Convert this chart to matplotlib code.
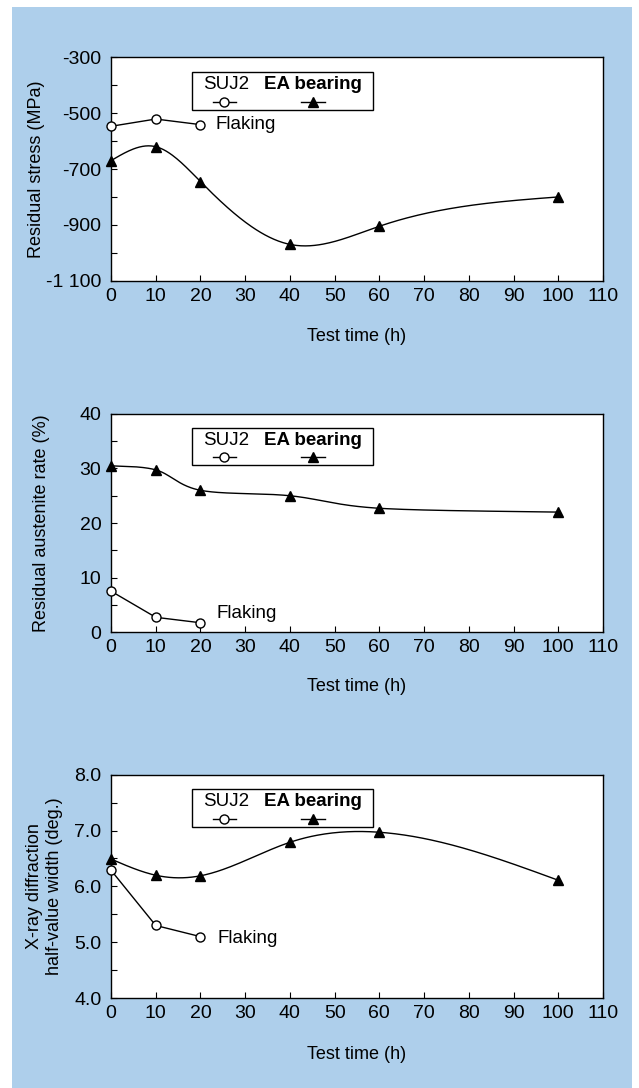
import matplotlib
matplotlib.use("Agg")
import matplotlib.pyplot as plt
from matplotlib.patches import Rectangle
import numpy as np

plt.rcParams['font.family'] = ['Liberation Sans', 'DejaVu Sans']

hours = [0, 10, 20, 40, 60, 100]
suj2_hours = [0, 10, 20]

stress_ea = [-670, -620, -745, -970, -905, -800]
stress_suj2 = [-547, -521, -541]

austenite_ea = [30.5, 29.75, 26.0, 25.0, 22.7, 22.0]
austenite_suj2 = [7.5, 2.7, 1.7]

width_ea = [6.49, 6.20, 6.19, 6.79, 6.97, 6.11]
width_suj2 = [6.29, 5.30, 5.10]

x_ticks = list(range(0, 111, 10))

panels = [
    dict(ea=stress_ea, suj2=stress_suj2, ylim=(-1100, -300),
         major=[-1100, -900, -700, -500, -300],
         labels=["-1 100", "-900", "-700", "-500", "-300"],
         minor=[-1000, -800, -600, -400],
         ylabel="Residual stress (MPa)", flaking=(23.3, -540), ylx=-0.152,
         box=(0.742, 0.2053), smooth="spline"),
    dict(ea=austenite_ea, suj2=austenite_suj2, ylim=(0, 40),
         major=[0, 10, 20, 30, 40],
         labels=["0", "10", "20", "30", "40"],
         minor=[5, 15, 25, 35],
         ylabel="Residual austenite rate (%)", flaking=(23.5, 3.4), ylx=-0.142,
         box=(0.4191, 0.2004), smooth="bezier"),
    dict(ea=width_ea, suj2=width_suj2, ylim=(4.0, 8.0),
         major=[4.0, 5.0, 6.0, 7.0, 8.0],
         labels=["4.0", "5.0", "6.0", "7.0", "8.0"],
         minor=[4.5, 5.5, 6.5, 7.5],
         ylabel="X-ray diffraction\nhalf-value width (deg.)", flaking=(23.7, 5.07),
         ylx=-0.135, box=(0.0827, 0.2052), smooth="spline"),
]


def bezier_line(x, y, n=40):
    # Catmull-Rom style bezier, like a spreadsheet "smoothed line"
    pts = np.column_stack([x, y]).astype(float)
    ext = np.vstack([pts[0], pts, pts[-1]])
    t = np.linspace(0, 1, n)[:, None]
    out = []
    for i in range(len(pts) - 1):
        p0, p3 = ext[i + 1], ext[i + 2]
        p1 = p0 + (ext[i + 2] - ext[i]) / 6
        p2 = p3 - (ext[i + 3] - ext[i + 1]) / 6
        seg = (1 - t) ** 3 * p0 + 3 * (1 - t) ** 2 * t * p1 \
            + 3 * (1 - t) * t ** 2 * p2 + t ** 3 * p3
        out.append(seg)
    out = np.vstack(out)
    return out[:, 0], out[:, 1]


def spline_line(x, y, n=300):
    # natural cubic spline
    x = np.asarray(x, float)
    y = np.asarray(y, float)
    k = len(x)
    h = np.diff(x)
    A = np.zeros((k, k))
    b = np.zeros(k)
    A[0, 0] = 1
    A[-1, -1] = 1
    for i in range(1, k - 1):
        A[i, i - 1] = h[i - 1]
        A[i, i] = 2 * (h[i - 1] + h[i])
        A[i, i + 1] = h[i]
        b[i] = 6 * ((y[i + 1] - y[i]) / h[i] - (y[i] - y[i - 1]) / h[i - 1])
    m = np.linalg.solve(A, b)
    xs = np.linspace(x[0], x[-1], n)
    idx = np.clip(np.searchsorted(x, xs) - 1, 0, k - 2)
    x0, x1 = x[idx], x[idx + 1]
    hh = x1 - x0
    t0, t1 = x1 - xs, xs - x0
    ys = (m[idx] * t0 ** 3 + m[idx + 1] * t1 ** 3) / (6 * hh) \
        + (y[idx] / hh - m[idx] * hh / 6) * t0 \
        + (y[idx + 1] / hh - m[idx + 1] * hh / 6) * t1
    return xs, ys


fig = plt.figure(figsize=(6.39, 10.88), dpi=100)
fig.patches.append(Rectangle((12 / 639, 0), 620 / 639, 1081 / 1088,
                             transform=fig.transFigure, facecolor="#AECFEB",
                             edgecolor="none", zorder=-10))

for p in panels:
    ax = fig.add_axes([0.1737, p["box"][0], 0.770, p["box"][1]])
    ax.set_facecolor("white")

    if p["smooth"] == "spline":
        xs, ys = spline_line(hours, p["ea"])
    else:
        xs, ys = bezier_line(hours, p["ea"])
    ax.plot(xs, ys, color="black", lw=1.0, clip_on=False)
    ax.plot(hours, p["ea"], ls="none", marker="^", ms=6.5, color="black",
            clip_on=False, zorder=4)
    ax.plot(suj2_hours, p["suj2"], color="black", lw=1.0, marker="o", ms=6.5,
            mfc="white", mec="black", mew=1.0, clip_on=False, zorder=4)
    ax.text(p["flaking"][0], p["flaking"][1], "Flaking", fontsize=13.5,
            ha="left", va="center")

    ax.set_xlim(0, 110)
    ax.set_ylim(*p["ylim"])
    ax.set_xticks(x_ticks)
    ax.set_yticks(p["major"])
    ax.set_yticklabels(p["labels"])
    ax.set_yticks(p["minor"], minor=True)
    ax.tick_params(which="both", direction="in", length=4, width=0.8,
                   labelsize=14)
    ax.tick_params(axis="y", pad=7)
    ax.tick_params(axis="x", pad=5)
    for s in ax.spines.values():
        s.set_linewidth(1.0)

    ax.set_ylabel(p["ylabel"], fontsize=13, linespacing=1.25)
    ax.yaxis.set_label_coords(p["ylx"], 0.5)
    ax.yaxis.label.set_va("center")
    ax.set_xlabel("Test time (h)", fontsize=13)
    ax.xaxis.set_label_coords(0.5, -56 / 223)
    ax.xaxis.label.set_va("center")

    # legend box
    ax.add_patch(Rectangle((0.165, 0.764), 0.368, 0.172, transform=ax.transAxes,
                           facecolor="white", edgecolor="black", lw=1.0, zorder=5))
    ax.text(0.234, 0.879, "SUJ2", transform=ax.transAxes, fontsize=13.5,
            ha="center", va="center", zorder=6)
    ax.text(0.41, 0.879, "EA bearing", transform=ax.transAxes, fontsize=13.5,
            fontweight="bold", ha="center", va="center", zorder=6)
    ax.plot([0.207, 0.254], [0.801, 0.801], transform=ax.transAxes,
            color="black", lw=1.0, zorder=6)
    ax.plot([0.230], [0.801], transform=ax.transAxes, marker="o", ms=6.5,
            mfc="white", mec="black", mew=1.0, zorder=7)
    ax.plot([0.386, 0.435], [0.801, 0.801], transform=ax.transAxes,
            color="black", lw=1.0, zorder=6)
    ax.plot([0.41], [0.801], transform=ax.transAxes, marker="^", ms=6.5,
            color="black", zorder=7)

fig.savefig("out.png", dpi=100)
